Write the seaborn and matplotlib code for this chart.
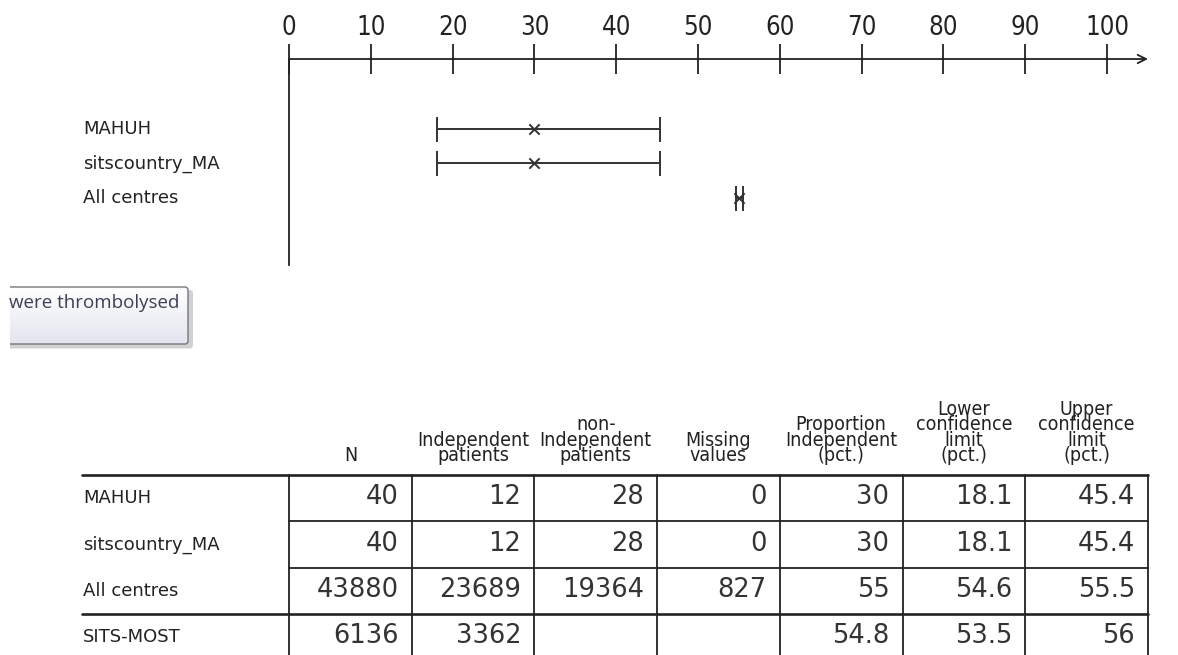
import numpy as np
import pandas as pd
import matplotlib
matplotlib.use("Agg")
import matplotlib.pyplot as plt
import seaborn as sns
from matplotlib import font_manager as fm
from matplotlib.transforms import blended_transform_factory
from matplotlib.patches import FancyBboxPatch

# ---------------- data ----------------
forest_labels = ["MAHUH", "sitscountry_MA", "All centres"]
forest_prop = [30, 30, 55]
forest_lower = [18.1, 18.1, 54.6]
forest_upper = [45.4, 45.4, 55.5]
axis_ticks = [0, 10, 20, 30, 40, 50, 60, 70, 80, 90, 100]

table_headers = ["N", "Independent\npatients", "non-\nIndependent\npatients",
                 "Missing\nvalues", "Proportion\nIndependent\n(pct.)",
                 "Lower\nconfidence\nlimit\n(pct.)", "Upper\nconfidence\nlimit\n(pct.)"]
table_rows = ["MAHUH", "sitscountry_MA", "All centres", "SITS-MOST"]
col_N = ["40", "40", "43880", "6136"]
col_indep = ["12", "12", "23689", "3362"]
col_nonindep = ["28", "28", "19364", ""]
col_missing = ["0", "0", "827", ""]
col_prop = ["30", "30", "55", "54.8"]
col_lower = ["18.1", "18.1", "54.6", "53.5"]
col_upper = ["45.4", "45.4", "55.5", "56"]

tooltip_text = "were thrombolysed"

# ---------------- style ----------------
sns.set_style("white")
plt.rcParams['font.family'] = ['DejaVu Sans']

# find a condensed face (DejaVu Sans Condensed / Liberation Sans Narrow)
cond_path = None
for f in fm.fontManager.ttflist:
    fn = f.fname.lower()
    if "dejavusanscondensed.ttf" in fn:
        cond_path = f.fname
        break
if cond_path is None:
    for f in fm.fontManager.ttflist:
        fn = f.fname.lower()
        if "liberationsansnarrow-regular" in fn:
            cond_path = f.fname
            break


def cond_fp(size):
    if cond_path is not None:
        return fm.FontProperties(fname=cond_path, size=size)
    return fm.FontProperties(family="DejaVu Sans", size=size * 0.9)


W, H = 1178, 655
fig = plt.figure(figsize=(W / 100, H / 100), dpi=100)
fig.patch.set_facecolor("white")


def fx(px):
    return px / W


def fy(py):
    return 1 - py / H


ink = "#222222"

# ---------------- forest plot ----------------
ax = fig.add_axes([fx(289), fy(265), fx(1148) - fx(289), (265 - 59) / H])
df = pd.DataFrame({"label": forest_labels, "prop": forest_prop,
                   "lower": forest_lower, "upper": forest_upper})
df["ypos"] = np.arange(len(df))

ax.errorbar(df["prop"], df["ypos"],
            xerr=[df["prop"] - df["lower"], df["upper"] - df["prop"]],
            fmt="none", ecolor="#333333", elinewidth=1.4, capsize=9, capthick=1.4)
sns.scatterplot(data=df, x="prop", y="ypos", marker="x", s=55, color="#333333",
                linewidth=1.4, ax=ax, legend=False, zorder=5)

ax.set_xlim(0, 105)
ax.set_ylim(3.914, -2.0)
ax.set_xlabel("")
ax.set_ylabel("")
ax.set_yticks([])
ax.xaxis.tick_top()
ax.set_xticks(axis_ticks)
ax.set_xticklabels([str(t) for t in axis_ticks], color=ink)
for lbl in ax.get_xticklabels():
    lbl.set_fontproperties(cond_fp(18.5))
ax.tick_params(axis="x", direction="inout", length=21.5, width=1.3, pad=2, colors=ink)
for s in ["top", "right", "bottom"]:
    ax.spines[s].set_visible(False)
ax.spines["left"].set_color(ink)
ax.spines["left"].set_linewidth(1.3)
ax.set_facecolor("none")
ax.annotate("", xy=(1.0, 1.0), xytext=(0.0, 1.0), xycoords="axes fraction",
            textcoords="axes fraction",
            arrowprops=dict(arrowstyle="->", lw=1.3, color=ink,
                            shrinkA=0, shrinkB=0, mutation_scale=15))

lab_tr = blended_transform_factory(fig.transFigure, ax.transData)
for i, lab in enumerate(df["label"]):
    ax.text(fx(83), i, lab, transform=lab_tr, ha="left", va="center",
            fontsize=13, color=ink, clip_on=False)

# ---------------- table ----------------
top_px, row_h = 475, 46.4
nrows = len(table_rows)
bot_px = top_px + row_h * nrows
tax = fig.add_axes([fx(82), fy(bot_px), fx(1148) - fx(82), (bot_px - top_px) / H])
tax.set_xlim(82, 1148)
tax.set_ylim(bot_px, top_px)
tax.axis("off")

col_w = 122.7
col_edges = [289 + i * col_w for i in range(len(table_headers) + 1)]
row_edges = [top_px + i * row_h for i in range(nrows + 1)]
lw = 1.3

tax.plot([82, col_edges[-1]], [row_edges[0]] * 2, color=ink, lw=1.9, clip_on=False)
tax.plot([82, col_edges[-1]], [row_edges[3]] * 2, color=ink, lw=1.9, clip_on=False)
for r in (1, 2):
    tax.plot([col_edges[0], col_edges[-1]], [row_edges[r]] * 2, color=ink, lw=lw,
             clip_on=False)
for x in col_edges:
    tax.plot([x, x], [row_edges[0], row_edges[-1] + 5], color=ink, lw=lw, clip_on=False)

for j, htxt in enumerate(table_headers):
    cx = (col_edges[j] + col_edges[j + 1]) / 2
    tax.text(cx, top_px - 10, htxt, ha="center", va="bottom", multialignment="center",
             fontproperties=cond_fp(14), linespacing=0.76, color=ink, clip_on=False)

columns = [col_N, col_indep, col_nonindep, col_missing, col_prop, col_lower, col_upper]
for i, rlab in enumerate(table_rows):
    cy = (row_edges[i] + row_edges[i + 1]) / 2
    tax.text(83, cy, rlab, ha="left", va="center", fontsize=13, color=ink,
             clip_on=False)
    for j, col in enumerate(columns):
        if col[i] != "":
            tax.text(col_edges[j + 1] - 13, cy - 1, col[i], ha="right", va="center",
                     fontsize=18.5, color="#333333", clip_on=False)

# ---------------- tooltip ----------------
tip = fig.add_axes([fx(10), fy(352), fx(200) - fx(10), (352 - 282) / H])
tip.axis("off")
shadow = FancyBboxPatch((-30, 290), 223, 58.5, boxstyle="round,pad=0,rounding_size=3",
                        facecolor="#9a9a9a", edgecolor="none", alpha=0.45)
tip.add_patch(shadow)
box = FancyBboxPatch((-30, 287), 218, 57, boxstyle="round,pad=0,rounding_size=3",
                     facecolor="none", edgecolor="#76767e", lw=1.0, zorder=3)
tip.add_patch(box)
grad = np.linspace(0, 1, 64).reshape(-1, 1)
cmap = matplotlib.colors.LinearSegmentedColormap.from_list("tipgrad", ["#ffffff", "#e3e5ef"])
im = tip.imshow(grad, extent=(-30, 188, 344, 287), cmap=cmap, aspect="auto",
                zorder=2, origin="upper")
im.set_clip_path(box)
tip.set_xlim(10, 200)
tip.set_ylim(352, 282)
tip.text(9, 303, tooltip_text, ha="left", va="center", fontsize=13.5,
         family=["Open Sans", "DejaVu Sans"], color="#3b3f55", zorder=4)

fig.savefig("out.png", dpi=100, facecolor="white")
